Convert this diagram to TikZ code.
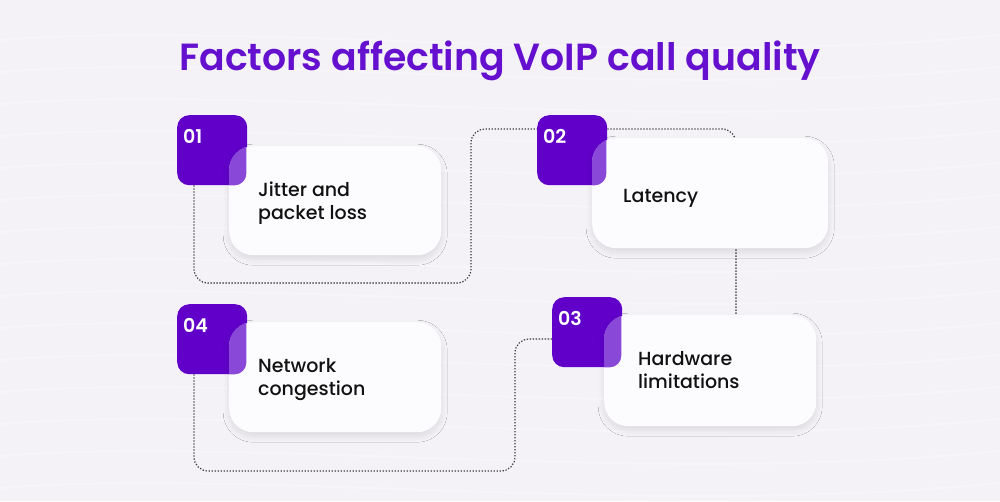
\documentclass[tikz,border=0pt]{standalone}
\usepackage{fontspec}
\setmainfont{Poppins}
\newfontfamily\titlefont{Poppins SemiBold}
\newfontfamily\medfont{Poppins Medium}
\usetikzlibrary{shadows.blur,calc}
\definecolor{bgc}{HTML}{F4F2F7}
\definecolor{purp}{HTML}{6000C9}
\definecolor{titlec}{HTML}{6410CE}
\definecolor{overc}{HTML}{8A48D8}
\definecolor{cardc}{HTML}{FCFCFE}
\definecolor{connc}{HTML}{3A3A40}
\definecolor{txtc}{HTML}{111111}
\begin{document}
\begin{tikzpicture}[x=1pt,y=-1pt,
  numbox/.style={draw=none,fill=purp,rounded corners=12pt,minimum width=70pt,minimum height=70pt,anchor=north west,inner sep=0pt},
  cardbox/.style={draw=none,fill=cardc,rounded corners=24pt,anchor=north west,inner sep=0pt,
     blur shadow={shadow blur steps=14,shadow xshift=0pt,shadow yshift=-4pt,shadow opacity=10,shadow blur radius=6pt}},
  numtxt/.style={text=white,font=\fontsize{19}{19}\titlefont,anchor=base west,inner sep=0pt},
  cardtxt/.style={text=txtc,font=\fontsize{19}{23}\medfont,anchor=base west,inner sep=0pt,align=left},
  conn/.style={draw=connc,line width=1.2pt,dash pattern=on 1.3pt off 1.7pt,rounded corners=14pt}
]
\useasboundingbox (0,0) rectangle (1000,501);
\fill[bgc] (0,0) rectangle (1000,501);
% subtle waves
\foreach \k in {0,...,14}{
  \draw[white,opacity=0.3,line width=2pt] (0,{40+\k*32}) .. controls (250,{20+\k*32}) and (650,{70+\k*32}) .. (1000,{35+\k*32});
}
% title
\node[text=titlec,font=\fontsize{37.8}{37.8}\titlefont,anchor=base,inner sep=0pt] (title) at (500,70) {Factors affecting VoIP call quality};

% purple squares
\node[numbox] (sq1) at (177,115) {};
\node[numbox] (sq2) at (537,115) {};
\node[numbox] (sq3) at (552,297) {};
\node[numbox] (sq4) at (177,304) {};

% connectors
\coordinate (p1) at (194,283);
\coordinate (p2) at (471,283);
\coordinate (p3) at (471,129);
\coordinate (p4) at (736,129);
\coordinate (p5) at (515,339);
\coordinate (p6) at (515,471);
\coordinate (p7) at (194,471);
\draw[conn] ([xshift=17pt]sq1.south west) -- (p1) -- (p2) -- (p3) -- ([yshift=-14pt]sq2.north west);
\draw[conn] ([yshift=-14pt]sq2.north east) -- (p4) -- (736,315);
\draw[conn] ([yshift=-42pt]sq3.north west) -- (p5) -- (p6) -- (p7) -- ([xshift=17pt]sq4.south west);

% cards
\node[cardbox,minimum width=212pt,minimum height=109pt] (card1) at (229,146) {};
\node[cardbox,minimum width=236pt,minimum height=110pt] (card2) at (592,138) {};
\node[cardbox,minimum width=212pt,minimum height=111pt] (card3) at (604,315) {};
\node[cardbox,minimum width=212pt,minimum height=110pt] (card4) at (229,322) {};

% overlaps
\foreach \s/\c in {sq1/card1,sq2/card2,sq3/card3,sq4/card4}{
  \begin{scope}
    \clip[rounded corners=12pt] ([xshift=-1pt]\s.north west) rectangle ([xshift=-1pt]\s.south east);
    \fill[overc,rounded corners=24pt] (\c.north west) rectangle (\c.south east);
  \end{scope}
}

% numbers
\node[numtxt] (n1) at (183,143) {01};
\node[numtxt] (n2) at (543,143) {02};
\node[numtxt] (n3) at (558,325) {03};
\node[numtxt] (n4) at (183,332) {04};

% card texts (anchor at baseline of last line)
\node[cardtxt] (t1) at (258,219) {Jitter and\\packet loss};
\node[cardtxt] (t2) at (623,202) {Latency};
\node[cardtxt] (t3) at (638,388) {Hardware\\limitations};
\node[cardtxt] (t4) at (258,395) {Network\\congestion};
\end{tikzpicture}
\end{document}
